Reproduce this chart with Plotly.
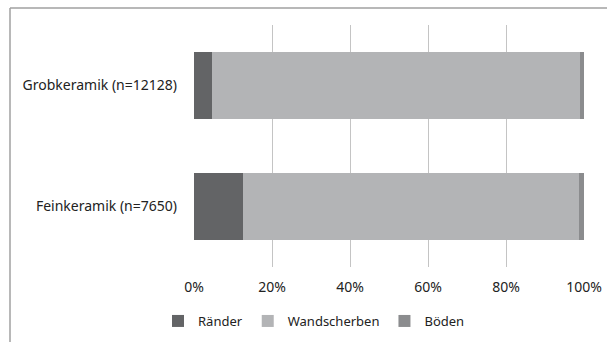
import plotly.graph_objects as go

categories = ["Feinkeramik (n=7650)", "Grobkeramik (n=12128)"]
raender = [12.6, 4.6]
wandscherben = [86.1, 94.4]
boeden = [1.3, 1.0]
tick_vals = [0, 20, 40, 60, 80, 100]
tick_text = ["0%", "20%", "40%", "60%", "80%", "100%"]

series = [
    ("Ränder", raender, "#636466"),
    ("Wandscherben", wandscherben, "#b3b4b6"),
    ("Böden", boeden, "#8b8c8e"),
]

fig = go.Figure()
for name, vals, col in series:
    fig.add_trace(go.Bar(
        y=categories, x=vals, name=name, orientation="h",
        marker=dict(color=col, line=dict(width=0)),
    ))

W, H = 607, 342
L, R, T, B = 194, 23, 25, 75
pw, ph = W - L - R, H - T - B

def px_x(p):
    return (p - L) / pw

def px_y(p):
    return (H - B - p) / ph

fig.update_layout(
    width=W, height=H,
    margin=dict(l=L, r=R, t=T, b=B, autoexpand=False),
    barmode="stack", bargap=0.44,
    paper_bgcolor="white", plot_bgcolor="white",
    font=dict(family="Noto Sans", size=14, color="#222222"),
    showlegend=True,
    legend=dict(orientation="h", x=px_x(158), xanchor="left",
                y=px_y(321), yanchor="middle",
                font=dict(size=13), itemwidth=30, tracegroupgap=0,
                traceorder="normal"),
    xaxis=dict(range=[0, 100], tickvals=tick_vals, ticktext=tick_text,
               showgrid=True, gridcolor="#c4c4c4", gridwidth=1,
               zeroline=False, showline=False, ticks="", automargin=False,
               ticklabelstandoff=10, fixedrange=True),
    yaxis=dict(showgrid=False, zeroline=False, showline=False, ticks="",
               automargin=False, ticklabelstandoff=16, fixedrange=True),
    shapes=[
        dict(type="line", xref="paper", yref="paper",
             x0=px_x(10), x1=px_x(607), y0=px_y(8), y1=px_y(8),
             line=dict(color="#a0a0a0", width=1.5)),
        dict(type="line", xref="paper", yref="paper",
             x0=px_x(10), x1=px_x(10), y0=px_y(8), y1=px_y(342),
             line=dict(color="#a0a0a0", width=1.5)),
    ],
)

fig.write_html("out.html", config={"displayModeBar": False},
               post_script="document.body.style.margin='0';")
